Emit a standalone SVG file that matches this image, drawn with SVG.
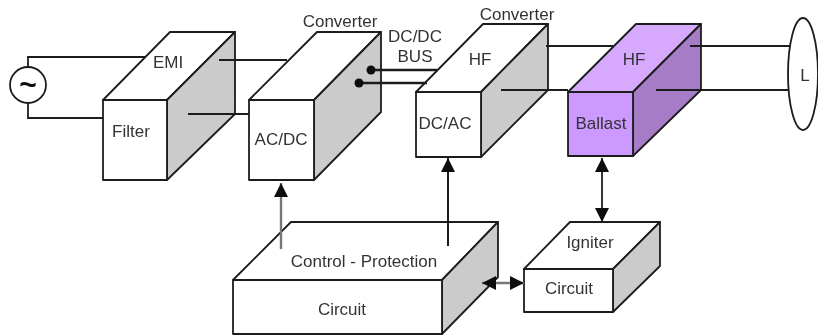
<svg xmlns="http://www.w3.org/2000/svg" width="818" height="336" viewBox="0 0 818 336">
  <style>
    .b{stroke:#1c1c1c;stroke-width:1.8;stroke-linejoin:round}
    .f{fill:#fff}.s{fill:#cbcbcb}
    .pf{fill:#cc99ff}.pt{fill:#d6a9fe}.ps{fill:#a67cc6}
    .w{fill:none;stroke:#1c1c1c;stroke-width:1.8}
    .t{font-family:"Liberation Sans",Arial,sans-serif;font-size:17px;fill:#333;text-anchor:middle}
  </style>
  <defs>
    <marker id="ah" markerUnits="userSpaceOnUse" markerWidth="15" markerHeight="14" refX="14" refY="7" orient="auto-start-reverse">
      <path d="M0 0L14 7L0 14Z" fill="#111"/>
    </marker>
    <filter id="soft" filterUnits="userSpaceOnUse" x="0" y="0" width="818" height="336"><feGaussianBlur stdDeviation="0.45"/></filter>
  </defs>
  <rect width="818" height="336" fill="#fff"/>
  <g filter="url(#soft)">
    <g id="source">
      <circle cx="28" cy="85" r="18" class="b f"/>
      <text x="28" y="95" class="t" style="font-size:30px;font-weight:bold;fill:#111">~</text>
    </g>
    <g id="emi-filter">
      <path d="M103 100L170 32H235L167 100Z" class="b f"/>
      <path d="M167 100L235 32V114L167 180Z" class="b s"/>
      <rect x="103" y="100" width="64" height="80" class="b f"/>
      <text x="168" y="68" class="t">EMI</text>
      <text x="131" y="137" class="t">Filter</text>
    </g>
    <g id="acdc-converter">
      <path d="M249 100L317 32H381L314 100Z" class="b f"/>
      <path d="M314 100L381 32V112L314 180Z" class="b s"/>
      <rect x="249" y="100" width="65" height="80" class="b f"/>
      <text x="340" y="27" class="t">Converter</text>
      <text x="281" y="145" class="t">AC/DC</text>
    </g>
    <g id="dcac-converter">
      <path d="M416 92L483 24H548L481 92Z" class="b f"/>
      <path d="M481 92L548 24V90L481 157Z" class="b s"/>
      <rect x="416" y="92" width="65" height="65" class="b f"/>
      <text x="517" y="20" class="t">Converter</text>
      <text x="480" y="65" class="t">HF</text>
      <text x="445" y="129" class="t">DC/AC</text>
    </g>
    <g id="hf-ballast">
      <path d="M568 92L636 24H701L633 92Z" class="b pt"/>
      <path d="M633 92L701 24V90L633 156Z" class="b ps"/>
      <rect x="568" y="92" width="65" height="64" class="b pf"/>
      <text x="634" y="65" class="t">HF</text>
      <text x="601" y="129" class="t">Ballast</text>
    </g>
    <g id="lamp">
      <ellipse cx="803" cy="74" rx="15" ry="56" class="b f"/>
      <text x="805" y="81" class="t">L</text>
    </g>
    <g id="control-protection">
      <path d="M233 280L291 222H498L442 280Z" class="b f"/>
      <path d="M442 280L498 222V277L442 334Z" class="b s"/>
      <rect x="233" y="280" width="209" height="54" class="b f"/>
      <text x="364" y="267" class="t">Control - Protection</text>
      <text x="342" y="315" class="t">Circuit</text>
    </g>
    <g id="igniter">
      <path d="M524 269L570 222H660L613 269Z" class="b f"/>
      <path d="M613 269L660 222V266L613 312Z" class="b s"/>
      <rect x="524" y="269" width="89" height="43" class="b f"/>
      <text x="590" y="248" class="t">Igniter</text>
      <text x="569" y="294" class="t">Circuit</text>
    </g>
    <g id="bus-label">
      <text x="415" y="42" class="t">DC/DC</text>
      <text x="415" y="62" class="t">BUS</text>
    </g>
    <g id="connectors">
      <path d="M28 67V57H145M28 103V118H103" class="w"/>
      <path d="M219 60H287M188 114H249" class="w"/>
      <path d="M371 70H437M359 83H427" class="w" style="stroke-width:2.4"/>
      <circle cx="371" cy="70" r="4.5" fill="#111"/>
      <circle cx="359" cy="83" r="4.5" fill="#111"/>
      <path d="M546 46H613M501 90H568" class="w"/>
      <path d="M690 46H790M656 90H788" class="w"/>
      <path d="M281 249V183" class="w" style="stroke:#777;stroke-width:2.4" marker-end="url(#ah)"/>
      <path d="M448 246V158" class="w" style="stroke-width:2" marker-end="url(#ah)"/>
      <path d="M602 158V222" class="w" marker-start="url(#ah)" marker-end="url(#ah)"/>
      <path d="M482 283H524" class="w" style="stroke:#777;stroke-width:2.4" marker-start="url(#ah)" marker-end="url(#ah)"/>
    </g>
  </g>
</svg>
